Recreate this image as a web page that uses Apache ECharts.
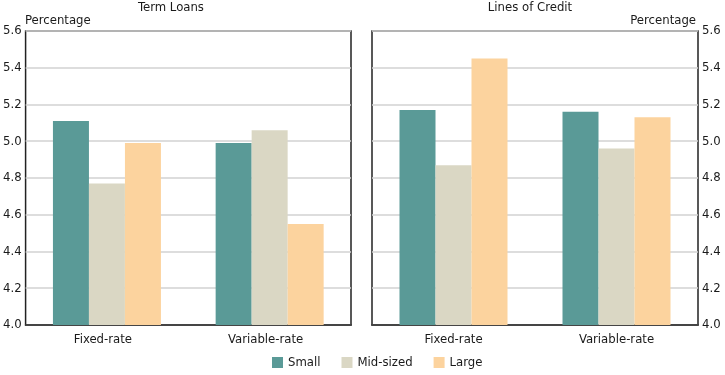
<!DOCTYPE html>
<html><head><meta charset="utf-8">
<script src="https://cdn.jsdelivr.net/npm/echarts@6/dist/echarts.min.js"></script>
<style>html,body{margin:0;padding:0;background:#fff}#c{width:725px;height:375px}</style>
</head><body><div id="c"></div>
<script>
const categories = ['Fixed-rate', 'Variable-rate'];
const seriesNames = ['Small', 'Mid-sized', 'Large'];
const termSmall = [5.11, 4.99];
const termMid = [4.77, 5.06];
const termLarge = [4.99, 4.55];
const locSmall = [5.17, 5.16];
const locMid = [4.87, 4.96];
const locLarge = [5.45, 5.13];
const panelTitles = ['Term Loans', 'Lines of Credit'];
const yMin = 4.0, yMax = 5.6, yStep = 0.2;

const colors = ['#5a9a97', '#dad7c4', '#fcd39e'];
const font = '"DejaVu Sans Condensed", "DejaVu Sans", sans-serif';
const fs = 13;
const txt = '#1a1a1a';

const chart = echarts.init(document.getElementById('c'));
function yAxis(idx, pos) {
  return {
    gridIndex: idx, type: 'value', min: yMin, max: yMax, interval: yStep, position: pos,
    axisLine: {show: false}, axisTick: {show: false},
    axisLabel: {color: txt, fontFamily: font, fontSize: fs, margin: 4,
      formatter: v => v.toFixed(1)},
    splitLine: {lineStyle: {color: '#d2d2d2', width: 1.5}}
  };
}
function xAxis(idx) {
  return {
    gridIndex: idx, type: 'category', data: categories,
    axisLine: {lineStyle: {color: '#222', width: 1.5}},
    axisTick: {inside: true, length: 6, lineStyle: {color: '#222'}},
    axisLabel: {color: txt, fontFamily: font, fontSize: fs, margin: 8,
      padding: idx === 0 ? [0, 8, 0, 0] : 0}
  };
}
const data = [[termSmall, termMid, termLarge], [locSmall, locMid, locLarge]];
const series = [];
for (let p = 0; p < 2; p++) {
  for (let s = 0; s < 3; s++) {
    series.push({
      name: seriesNames[s], type: 'bar', xAxisIndex: p, yAxisIndex: p,
      data: data[p][s], barWidth: 36, barGap: '0%',
      itemStyle: {color: colors[s]}
    });
  }
}
const ts = {fontFamily: font, fontSize: fs, fontWeight: 'normal', color: txt};
chart.setOption({
  animation: false,
  color: colors,
  textStyle: {fontFamily: font},
  title: [
    {text: panelTitles[0], left: 171, top: 1, padding: 0, textAlign: 'center', textStyle: ts},
    {text: panelTitles[1], left: 530, top: 1, padding: 0, textAlign: 'center', textStyle: ts},
    {text: 'Percentage', left: 25, top: 14, padding: 0, textStyle: ts},
    {text: 'Percentage', right: 29, top: 14, padding: 0, textStyle: ts}
  ],
  legend: {
    data: seriesNames, bottom: 6, left: 272, padding: 0, itemWidth: 11, itemHeight: 11, itemGap: 21,
    icon: 'rect', textStyle: {fontFamily: font, fontSize: fs, color: txt}
  },
  grid: [
    {left: 25, right: 374, top: 31, bottom: 50, show: true, borderColor: '#222', borderWidth: 1.5, backgroundColor: 'transparent'},
    {left: 372, right: 27, top: 31, bottom: 50, show: true, borderColor: '#222', borderWidth: 1.5, backgroundColor: 'transparent'}
  ],
  xAxis: [xAxis(0), xAxis(1)],
  yAxis: [yAxis(0, 'left'), yAxis(1, 'right')],
  series: series
});
</script></body></html>
